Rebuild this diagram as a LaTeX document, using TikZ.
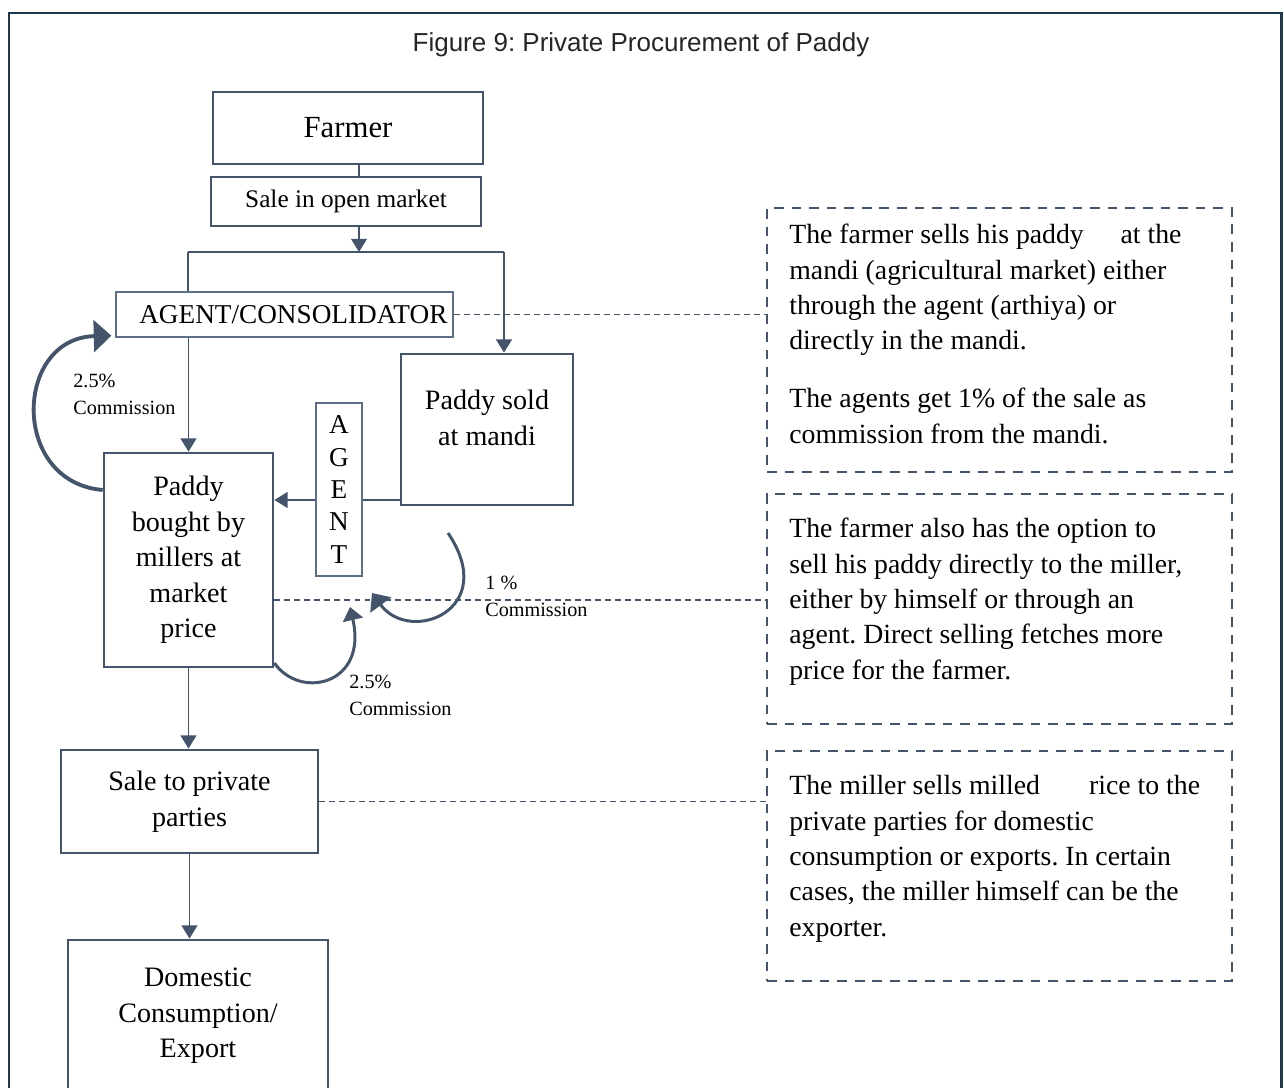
\documentclass[tikz,border=0pt]{standalone}
\usepackage{fontspec}
\setmainfont{Liberation Serif}
\newfontfamily\titlefont{Liberation Sans}
\usetikzlibrary{arrows.meta}
\definecolor{boxblue}{HTML}{44546A}
\definecolor{thinblue}{HTML}{5E6F88}
\definecolor{framenavy}{HTML}{1F384C}
\frenchspacing
\begin{document}
\begin{tikzpicture}[x=0.02cm, y=-0.02cm,
		flowbox/.style={draw=boxblue, line width=1.6pt, inner sep=0pt, align=center, font=\fontsize{16}{20.2}\selectfont},
		thinbox/.style={draw=thinblue, line width=0.8pt, inner sep=0pt, align=center, font=\fontsize{15.5}{18.4}\selectfont},
		notebox/.style={draw=boxblue, line width=1.5pt, dash pattern=on 5.5pt off 4.5pt, minimum width=9.3cm},
		notetext/.style={font=\fontsize{15.8}{20.1}\selectfont, align=left, inner sep=0pt, anchor=base west},
		flowline/.style={draw=boxblue, line width=0.9pt},
		arr/.style={flowline, -{Triangle[length=7.5pt,width=9pt]}},
		link/.style={draw=boxblue, line width=0.6pt, dash pattern=on 3.4pt off 2.3pt},
		commarc/.style={draw=boxblue, line width=1.7pt},
		commlabel/.style={font=\fontsize{11.5}{15.3}\selectfont, align=left, inner sep=0pt, anchor=base west}]
	\useasboundingbox (0,0) rectangle (1284,1088);
	\draw[framenavy, line width=1.7pt] (9,1088) -- (9,13) -- (1281,13) -- (1281,1088);
	\node[font=\titlefont\fontsize{14.8}{17}\selectfont, text=black!85, anchor=base] (title) at (641,52) {Figure 9: Private Procurement of Paddy};

	\node[flowbox, minimum width=5.4cm, minimum height=1.44cm, font=\fontsize{17.5}{21}\selectfont] (farmer) at (348,128) {Farmer};
	\node[flowbox, minimum width=5.4cm, minimum height=0.98cm, font=\fontsize{14.4}{18}\selectfont] (saleopen) at (346,201.5) {Sale in open market};
	\node[thinbox, minimum width=6.74cm, minimum height=0.9cm, text width=6.52cm, align=right] (agentcons) at (284.5,314.5) {AGENT/CONSOLIDATOR};
	\node[flowbox, minimum width=3.44cm, minimum height=3.02cm] (sold) at (487,429.5) {};
	\node[align=center, font=\fontsize{16}{20.2}\selectfont] (soldtxt) at (487,418) {Paddy sold\\at mandi};
	\node[thinbox, minimum width=0.92cm, minimum height=3.46cm] (agentv) at (339,489.5) {A\\G\\E\\N\\T};
	\node[flowbox, minimum width=3.38cm, minimum height=4.28cm] (bought) at (188.5,560) {Paddy\\bought by\\millers at\\market\\price};
	\node[flowbox, minimum width=5.14cm, minimum height=2.06cm] (saleprivate) at (189.5,801.5) {Sale to private\\parties};
	\node[flowbox, minimum width=5.2cm, minimum height=3.04cm] (domestic) at (198,1016) {Domestic\\Consumption/\\Export};

	\node[notebox, minimum height=5.28cm] (note1) at (999.5,340) {};
	\node[notebox, minimum height=4.6cm] (note2) at (999.5,609) {};
	\node[notebox, minimum height=4.6cm] (note3) at (999.5,866) {};
	\node[notetext] (note1txt) at (789,443) {The farmer sells his paddy\hspace{17pt} at the\\mandi (agricultural market) either\\through the agent (arthiya) or\\directly in the mandi.\\[12.8pt]The agents get 1\% of the sale as\\commission from the mandi.};
	\node[notetext] (note2txt) at (789,679) {The farmer also has the option to\\sell his paddy directly to the miller,\\either by himself or through an\\agent. Direct selling fetches more\\price for the farmer.};
	\node[notetext] (note3txt) at (789,936) {The miller sells milled\hspace{24pt} rice to the\\private parties for domestic\\consumption or exports. In certain\\cases, the miller himself can be the\\exporter.};

	\coordinate (split) at (359,252);
	\coordinate (splitL) at (188,252);
	\coordinate (splitR) at (504,252);
	\coordinate (ay) at (0,500);
	\coordinate (my) at (0,600);
	\coordinate (y490) at (0,490);
	\coordinate (y663) at (0,663);
	\coordinate (onestart) at (448,533);
	\coordinate (onetip) at (372,593);
	\coordinate (twotip) at (350,607);

	\draw[flowline] (farmer.south -| split) -- (saleopen.north -| split);
	\draw[arr] (saleopen.south -| split) -- (split);
	\draw[flowline] (splitL) -- (splitR);
	\draw[flowline] (splitL) -- (agentcons.north -| splitL);
	\draw[arr] (splitR) -- (sold.north -| splitR);
	\draw[arr] (agentcons.south -| bought.north) -- (bought.north);
	\draw[flowline] (sold.west |- ay) -- (agentv.east |- ay);
	\draw[arr] (agentv.west |- ay) -- (bought.east |- ay);
	\draw[arr] (bought.south) -- (bought.south |- saleprivate.north);
	\draw[arr] (saleprivate.south) -- (saleprivate.south |- domestic.north);

	\draw[link] (agentcons.east) -- (agentcons.east -| note1.west);
	\draw[link] (bought.east |- my) -- (note2.west |- my);
	\draw[link] (saleprivate.east) -- (saleprivate.east -| note3.west);

	\draw[commarc, line width=2.2pt, -{Triangle[length=10pt,width=18pt]}] (bought.west |- y490) .. controls (10,482) and (14,338) .. ([shift={(-4,-2)}]agentcons.south west);
	\draw[commarc, -{Triangle[length=8.5pt,width=14.5pt]}] (onestart) .. controls (500,610) and (410,645) .. (onetip);
	\draw[commarc, -{Triangle[length=7.5pt,width=11.5pt]}] (bought.east |- y663) .. controls (300,700) and (368,685) .. (twotip);

	\node[commlabel] (commA) at (73,414) {2.5\%\\Commission};
	\node[commlabel] (commB) at (485,616) {1 \%\\Commission};
	\node[commlabel] (commC) at (349,715) {2.5\%\\Commission};
\end{tikzpicture}
\end{document}
